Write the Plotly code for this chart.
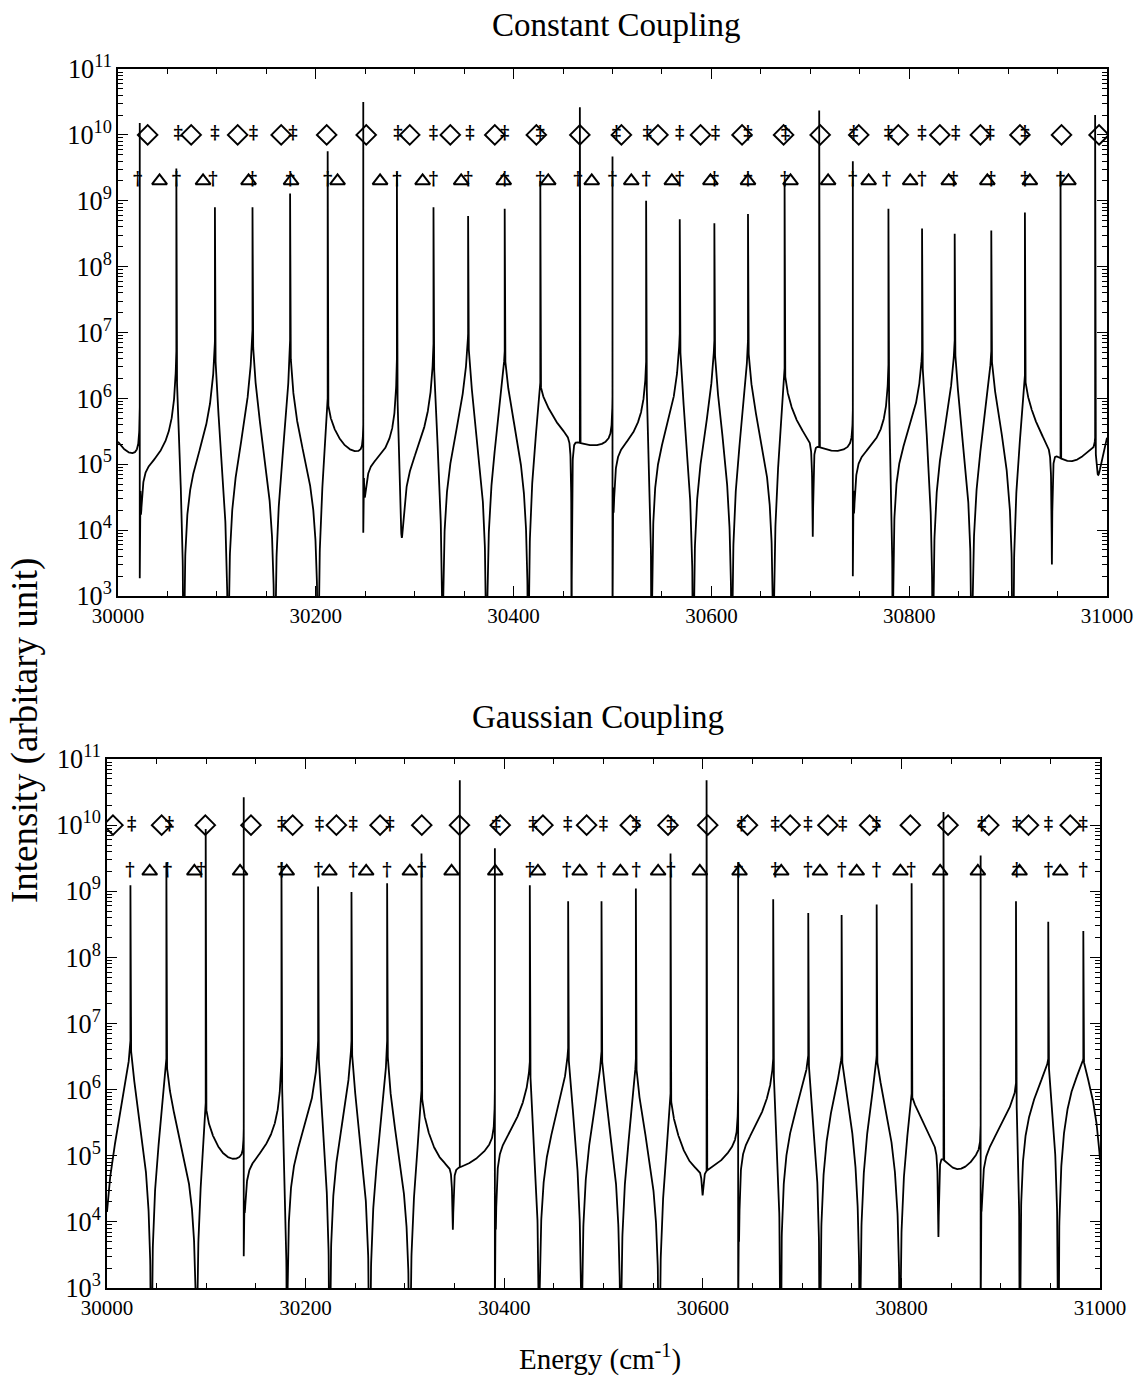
import numpy as np
import plotly.graph_objects as go

NAN = float("nan")

# ======================= Constant Coupling (top panel) =======================
# resonance (pole) positions in cm^-1 (first/last lie just outside the axis)
top_pole_E = [29982, 30022, 30059, 30098, 30136, 30174, 30212, 30248, 30282, 30319,
              30354, 30391, 30427, 30467, 30500, 30534, 30568, 30603, 30637, 30674,
              30709, 30743, 30779, 30813, 30846, 30883, 30917, 30953, 30988, 31025]
# log10 intensity where the smooth curve meets each resonance (cusp)
top_pole_cusp_log10 = [5.87, 5.87, 6.72, 6.88, 7.04, 6.88, 6.00, 5.60, 6.60, 6.83,
                       6.98, 6.72, 6.24, 5.60, 6.03, 6.56, 6.98, 6.88, 6.88, 6.46,
                       5.50, 5.82, 6.51, 6.72, 6.88, 6.72, 6.35, 5.80, 5.40, 6.80]
# 1 = resonance shapes the smooth curve, 0 = isolated narrow spike only
top_pole_shapes_curve = [1, 1, 1, 1, 1, 1, 1, 1, 1, 1,
                         1, 1, 1, 0, 1, 1, 1, 1, 1, 1,
                         0, 1, 1, 1, 1, 1, 1, 0, 1, 1]
# log10 intensity of the top of each spike
top_spike_top_log10 = [NAN, 10.18, 9.49, 8.90, 8.90, 9.11, 9.75, 10.50, 9.43, 8.90,
                       8.77, 8.88, 9.30, 10.42, 9.67, 9.00, 8.72, 8.66, 8.80, 9.28,
                       10.37, 9.60, 8.88, 8.58, 8.50, 8.55, 8.82, 9.43, 10.30, NAN]
# log10 of the lower end of the spike line (NaN: spike starts at the curve)
top_spike_bottom_log10 = [NAN, 3.27, NAN, NAN, NAN, NAN, NAN, 3.96, NAN, NAN,
                          NAN, NAN, NAN, NAN, 2.50, NAN, NAN, NAN, NAN, NAN,
                          NAN, 3.30, NAN, NAN, NAN, NAN, NAN, NAN, NAN, NAN]
# minima (dips / U bottoms) positions and their log10 depths
top_zero_E = [30002, 30023, 30066.5, 30111.3, 30158.5, 30202.3, 30229.3, 30249, 30286.7,
              30328.2, 30372.7, 30414.8, 30458.7, 30477.2, 30501, 30539.6, 30581.7,
              30620.6, 30662.7, 30702.5, 30720.0, 30744, 30783.4, 30823.9, 30863.4,
              30904.9, 30944.3, 30969.6, 30990]
top_zero_depth_log10 = [5.30, 4.30, 1.0, 1.0, 1.0, 1.0, 5.29, 4.60, 3.90,
                        1.0, 1.0, 1.0, 1.0, 5.29, 4.30, 1.0, 1.0,
                        1.0, 1.0, 3.90, 5.21, 4.30, 1.0, 1.0, 1.0,
                        1.0, 3.48, 5.07, 4.90]
# 1 = sharp isolated notch, 0 = broad minimum
top_zero_narrow = [0, 0, 0, 0, 0, 0, 0, 0, 0,
                   0, 0, 0, 1, 0, 0, 0, 0,
                   0, 0, 1, 0, 0, 0, 0, 0,
                   0, 1, 0, 0]
# a few mid-leg levels
top_ref_E = [30041, 30082, 30303, 30517]
top_ref_log10 = [5.20, 5.30, 5.15, 5.34]
# symbol positions
top_diamond_E = [30030, 30074, 30121, 30165, 30211, 30251, 30295, 30336, 30381, 30423,
                 30467, 30509, 30546, 30589, 30631, 30673, 30710, 30749, 30789, 30831,
                 30872, 30912, 30954, 30992]
top_triangle_E = [30042, 30086, 30132, 30175, 30222, 30265, 30308, 30347, 30390, 30435,
                  30479, 30519, 30560, 30599, 30637, 30680, 30718, 30759, 30801, 30840,
                  30879, 30922, 30961]
top_ddagger_E = [30061, 30098, 30137, 30177, 30283, 30319, 30356, 30391, 30427, 30504,
                 30535, 30568, 30604, 30637, 30675, 30744, 30779, 30813, 30847, 30882, 30917]
top_dagger_E = [30020, 30059, 30096, 30136, 30174, 30212, 30282, 30319, 30354, 30391,
                30427, 30465, 30500, 30534, 30568, 30603, 30637, 30674, 30743, 30777,
                30813, 30845, 30883, 30917, 30953]

# ======================= Gaussian Coupling (bottom panel) =======================
bot_pole_E = [29965, 30023.6, 30059.8, 30099.4, 30137.7, 30175.7, 30212.6, 30246.2, 30282.1,
              30316.7, 30355.3, 30390.6, 30425.8, 30464.4, 30498.0, 30532.6, 30567.5,
              30603.8, 30635.6, 30670.9, 30706.2, 30739.8, 30775.1, 30810.3, 30842.4,
              30879.8, 30915.4, 30947.9, 30983.2, 31030]
bot_pole_cusp_log10 = [6.50, 6.74, 6.47, 5.80, 5.41, 6.52, 6.74, 6.74, 6.74,
                       5.99, 5.00, 6.02, 6.42, 6.63, 6.58, 6.47, 5.94,
                       4.90, 5.99, 6.47, 6.52, 6.52, 6.52, 5.94, 5.00,
                       5.46, 6.10, 6.47, 6.47, 6.50]
bot_pole_shapes_curve = [1, 1, 1, 1, 1, 1, 1, 1, 1,
                         1, 0, 1, 1, 1, 1, 1, 1,
                         0, 1, 1, 1, 1, 1, 1, 0,
                         1, 1, 1, 1, 1]
bot_spike_top_log10 = [NAN, 9.09, 9.44, 9.94, 10.42, 9.44, 9.07, 8.99, 9.12,
                       9.57, 10.68, 9.65, 9.09, 8.85, 8.85, 9.04, 9.57,
                       10.68, 9.44, 8.88, 8.67, 8.64, 8.80, 9.12, 10.20,
                       9.54, 8.85, 8.54, 8.40, NAN]
bot_spike_bottom_log10 = [NAN, NAN, NAN, NAN, 3.48, NAN, NAN, NAN, NAN,
                          NAN, NAN, 2.50, NAN, NAN, NAN, NAN, NAN,
                          NAN, 2.50, NAN, NAN, NAN, NAN, NAN, NAN,
                          2.50, NAN, NAN, NAN, NAN]
bot_zero_E = [29996, 30044.7, 30090.1, 30116.9, 30138.5, 30181.3, 30224.3, 30264.6,
              30304.9, 30334.0, 30348.3, 30391.5, 30435.2, 30477.9, 30517.2, 30556.1,
              30590.3, 30599.8, 30636.5, 30678.4, 30718.0, 30758.2, 30798.5, 30837.3,
              30855.6, 30880.5, 30919.4, 30958.0, 31004]
bot_zero_depth_log10 = [1.0, 1.0, 1.0, 5.04, 4.20, 1.0, 1.0, 1.0,
                        1.0, 5.00, 3.88, 3.90, 1.0, 1.0, 1.0, 1.0,
                        4.85, 4.40, 3.70, 1.0, 1.0, 1.0, 1.0, 3.77,
                        4.80, 4.20, 1.0, 1.0, 1.0]
bot_zero_narrow = [0, 0, 0, 0, 0, 0, 0, 0,
                   0, 0, 1, 0, 0, 0, 0, 0,
                   0, 1, 0, 0, 0, 0, 0, 1,
                   0, 0, 0, 0, 0]
bot_ref_E = [30052, 30157, 30235, 30617]
bot_ref_log10 = [5.05, 5.20, 5.05, 5.20]
bot_diamond_E = [30006, 30055, 30099, 30145, 30187, 30231, 30275, 30317, 30355, 30396,
                 30439, 30483, 30527, 30565, 30605, 30645, 30688, 30726, 30768, 30809,
                 30847, 30888, 30928, 30970]
bot_triangle_E = [30043, 30088, 30134, 30181, 30224, 30261, 30305, 30347, 30391, 30434,
                  30476, 30517, 30555, 30597, 30637, 30679, 30718, 30755, 30799, 30839,
                  30877, 30919, 30960]
bot_ddagger_E = [30025, 30063, 30176, 30214, 30248, 30285, 30392, 30429, 30464, 30500,
                 30533, 30568, 30639, 30673, 30706, 30741, 30775, 30881, 30916, 30948, 30983]
bot_dagger_E = [30023, 30061, 30095, 30176, 30213, 30248, 30282, 30317, 30426, 30463,
                30498, 30533, 30568, 30636, 30673, 30706, 30740, 30775, 30810, 30916,
                30948, 30983]

# marker rows (intensity levels)
DIAMOND_ROW = 1.0e10
TRIANGLE_ROW = 2.0e9

E_MIN, E_MAX = 30000.0, 31000.0
NOTCH_WIDTH = 1.2
LN10 = np.log(10.0)


def pole_logs(E, P, g):
    d = np.abs(E[:, None] - P[None, :])
    return np.log(d ** 2 + 2.0 * g[None, :] * d * np.exp(-d / 8.0) + g[None, :] ** 2)


def zero_logs(E, Z, w, nar):
    d2 = (E[:, None] - Z[None, :]) ** 2
    return np.log(d2 + w[None, :] ** 2) - nar[None, :] * np.log(d2 + NOTCH_WIDTH ** 2)


def build_curve(pole_E, cusp, shapes, top, bottom, zero_E, depth, narrow, ref_E, ref_log):
    P_all = np.asarray(pole_E, float)
    keep = np.asarray(shapes) == 1
    P = P_all[keep]
    lc = np.asarray(cusp, float)[keep] * LN10
    Z = np.asarray(zero_E, float)
    nar = np.asarray(narrow, float)
    ld = np.asarray(depth, float) * LN10
    rE = np.asarray(ref_E, float)
    rl = np.asarray(ref_log, float) * LN10
    state = {"g": np.full(P.size, 2.0), "w": np.full(Z.size, 1.0), "c": 0.0}

    def logf(E):
        return (state["c"] + zero_logs(E, Z, state["w"], nar).sum(1)
                - pole_logs(E, P, state["g"]).sum(1))

    for _ in range(200):
        g, w = state["g"], state["w"]
        pm = pole_logs(P, P, g)
        rest = state["c"] + zero_logs(P, Z, w, nar).sum(1) - (pm.sum(1) - np.diag(pm))
        state["g"] = np.clip(np.exp(0.5 * (rest - lc)), 0.2, 15.0)
        zm = zero_logs(Z, Z, w, nar)
        restz = state["c"] + (zm.sum(1) - np.diag(zm)) - pole_logs(Z, P, state["g"]).sum(1)
        own_extra = nar * np.log(NOTCH_WIDTH ** 2)
        state["w"] = np.clip(np.exp(0.5 * (ld - restz + own_extra)), 1e-5, 400.0)
        state["c"] += 0.5 * np.mean(rl - logf(rE))

    grid = np.arange(E_MIN, E_MAX + 1e-6, 0.1)
    inside_z = Z[(Z >= E_MIN) & (Z <= E_MAX)]
    grid = np.concatenate([grid, inside_z])
    xs = list(grid)
    order = [0] * len(grid)
    ys = list(np.exp(logf(grid)))
    for k in range(P_all.size):
        if np.isnan(top[k]) or P_all[k] < E_MIN or P_all[k] > E_MAX:
            continue
        fc = float(np.exp(logf(np.array([P_all[k]]))[0]))
        lo = fc if np.isnan(bottom[k]) else 10 ** bottom[k]
        for o, yv in ((1, fc), (2, 10 ** top[k]), (3, lo), (4, fc)):
            xs.append(P_all[k]); order.append(o); ys.append(yv)
    xs = np.array(xs); order = np.array(order); ys = np.array(ys)
    idx = np.lexsort((order, xs))
    return xs[idx], ys[idx]


top_x, top_y = build_curve(top_pole_E, top_pole_cusp_log10, top_pole_shapes_curve,
                           top_spike_top_log10, top_spike_bottom_log10,
                           top_zero_E, top_zero_depth_log10, top_zero_narrow,
                           top_ref_E, top_ref_log10)
bot_x, bot_y = build_curve(bot_pole_E, bot_pole_cusp_log10, bot_pole_shapes_curve,
                           bot_spike_top_log10, bot_spike_bottom_log10,
                           bot_zero_E, bot_zero_depth_log10, bot_zero_narrow,
                           bot_ref_E, bot_ref_log10)

SERIF = "Liberation Serif"
fig = go.Figure()


def add_panel(xa, ya, cx, cy, diam, tri, ddag, dag):
    fig.add_trace(go.Scatter(x=cx, y=cy, mode="lines", xaxis=xa, yaxis=ya,
                             line=dict(color="black", width=1.8), hoverinfo="skip"))
    fig.add_trace(go.Scatter(x=diam, y=[DIAMOND_ROW] * len(diam), mode="markers",
                             xaxis=xa, yaxis=ya,
                             marker=dict(symbol="diamond-open", size=15, color="black",
                                         line=dict(width=2.0, color="black"))))
    fig.add_trace(go.Scatter(x=tri, y=[TRIANGLE_ROW] * len(tri), mode="markers",
                             xaxis=xa, yaxis=ya,
                             marker=dict(symbol="triangle-up-open", size=13, color="black",
                                         line=dict(width=2.0, color="black"))))
    fig.add_trace(go.Scatter(x=ddag, y=[DIAMOND_ROW] * len(ddag), mode="text",
                             text=["<b>\u2021</b>"] * len(ddag), xaxis=xa, yaxis=ya,
                             textfont=dict(family="DejaVu Serif", size=18, color="black")))
    fig.add_trace(go.Scatter(x=dag, y=[TRIANGLE_ROW] * len(dag), mode="text",
                             text=["<b>\u2020</b>"] * len(dag), xaxis=xa, yaxis=ya,
                             textfont=dict(family="DejaVu Serif", size=18, color="black")))


add_panel("x", "y", top_x, top_y, top_diamond_E, top_triangle_E, top_ddagger_E, top_dagger_E)
add_panel("x2", "y2", bot_x, bot_y, bot_diamond_E, bot_triangle_E, bot_ddagger_E, bot_dagger_E)

W, H = 1140, 1376
xcommon = dict(range=[E_MIN, E_MAX], tickmode="linear", tick0=30000, dtick=200,
               tickformat="d", automargin=False,
               ticks="inside", ticklen=10, tickwidth=1.4, tickcolor="black",
               minor=dict(dtick=50, ticks="inside", ticklen=5, tickwidth=1.2, tickcolor="black"),
               showline=True, linecolor="black", linewidth=1.8, mirror="ticks",
               showgrid=False, zeroline=False,
               tickfont=dict(family=SERIF, size=21, color="black"))
ycommon = dict(type="log", range=[3, 11], dtick=1, exponentformat="power", automargin=False,
               ticks="inside", ticklen=10, tickwidth=1.4, tickcolor="black",
               minor=dict(dtick="D1", ticks="inside", ticklen=5, tickwidth=1.1, tickcolor="black"),
               showline=True, linecolor="black", linewidth=1.8, mirror="ticks",
               showgrid=False, zeroline=False,
               tickfont=dict(family=SERIF, size=21, color="black"))

fig.update_layout(
    template="none",
    width=W, height=H, margin=dict(l=0, r=0, t=0, b=0, pad=0, autoexpand=False),
    paper_bgcolor="white", plot_bgcolor="white", showlegend=False,
    xaxis=dict(domain=[118 / W, 1107 / W], anchor="y", **xcommon),
    yaxis=dict(domain=[1 - 596 / H, 1 - 69 / H], anchor="x", **ycommon),
    xaxis2=dict(domain=[107 / W, 1100 / W], anchor="y2", **xcommon),
    yaxis2=dict(domain=[1 - 1288 / H, 1 - 759 / H], anchor="x2", **ycommon),
    annotations=[
        dict(text="Constant Coupling", x=616 / W, y=1 - 25 / H, xref="paper", yref="paper",
             xanchor="center", yanchor="middle",
             showarrow=False, font=dict(family=SERIF, size=33, color="black")),
        dict(text="Gaussian Coupling", x=598 / W, y=1 - 717 / H, xref="paper", yref="paper",
             xanchor="center", yanchor="middle",
             showarrow=False, font=dict(family=SERIF, size=33, color="black")),
        dict(text="Intensity (arbitary unit)", x=25 / W, y=1 - 731 / H, xref="paper",
             yref="paper", textangle=-90, showarrow=False, xanchor="center", yanchor="middle",
             font=dict(family=SERIF, size=37, color="black")),
        dict(text="Energy (cm<sup>-1</sup>)", x=600 / W, y=1 - 1357 / H, xref="paper",
             yref="paper", showarrow=False, xanchor="center", yanchor="middle",
             font=dict(family=SERIF, size=29, color="black")),
    ],
)

fig.write_html("out.html")
